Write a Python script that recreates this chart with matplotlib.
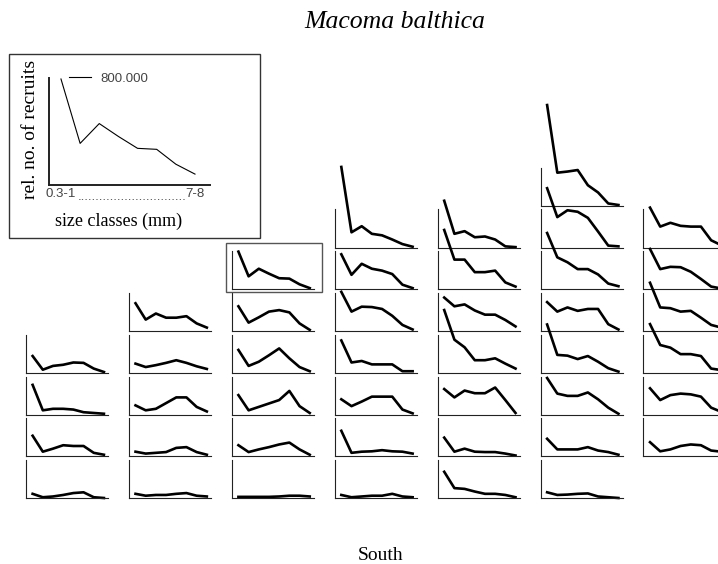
import numpy as np
import matplotlib.pyplot as plt
from matplotlib.patches import Rectangle

# size classes (mm) on the x axis of every small plot
size_classes = ['0.3-1', '1-2', '2-3', '3-4', '4-5', '5-6', '6-7', '7-8']
scale_label = '800.000'

# relative no. of recruits per station, each column listed from top to bottom
col0 = [
	[0.44, 0.08, 0.18, 0.21, 0.27, 0.26, 0.11, 0.02],
	[0.78, 0.11, 0.15, 0.15, 0.13, 0.06, 0.04, 0.02],
	[0.54, 0.12, 0.20, 0.29, 0.27, 0.27, 0.09, 0.04],
	[0.11, 0.02, 0.04, 0.08, 0.13, 0.15, 0.02, 0.00],
]
col1 = [
	[0.73, 0.30, 0.46, 0.35, 0.35, 0.39, 0.20, 0.09],
	[0.24, 0.15, 0.20, 0.26, 0.33, 0.26, 0.17, 0.10],
	[0.24, 0.11, 0.15, 0.30, 0.45, 0.45, 0.20, 0.08],
	[0.12, 0.07, 0.09, 0.11, 0.22, 0.24, 0.11, 0.04],
	[0.11, 0.06, 0.08, 0.08, 0.11, 0.13, 0.06, 0.04],
]
col2 = [
	[0.99, 0.34, 0.54, 0.41, 0.29, 0.28, 0.13, 0.03],
	[0.65, 0.22, 0.36, 0.51, 0.55, 0.49, 0.20, 0.03],
	[0.60, 0.18, 0.29, 0.46, 0.64, 0.38, 0.15, 0.04],
	[0.51, 0.11, 0.20, 0.29, 0.38, 0.62, 0.22, 0.04],
	[0.29, 0.11, 0.18, 0.24, 0.31, 0.36, 0.18, 0.04],
	[0.03, 0.03, 0.03, 0.03, 0.04, 0.06, 0.06, 0.04],
]
col3 = [
	[2.12, 0.40, 0.56, 0.36, 0.32, 0.21, 0.09, 0.02],
	[0.92, 0.38, 0.67, 0.54, 0.49, 0.40, 0.12, 0.03],
	[1.03, 0.51, 0.64, 0.63, 0.58, 0.40, 0.16, 0.04],
	[0.85, 0.27, 0.31, 0.22, 0.22, 0.22, 0.04, 0.04],
	[0.40, 0.22, 0.34, 0.47, 0.47, 0.47, 0.13, 0.03],
	[0.67, 0.09, 0.12, 0.13, 0.16, 0.13, 0.12, 0.07],
	[0.08, 0.02, 0.04, 0.06, 0.06, 0.11, 0.04, 0.02],
]
col4 = [
	[1.23, 0.36, 0.43, 0.27, 0.29, 0.21, 0.03, 0.01],
	[1.56, 0.78, 0.78, 0.45, 0.45, 0.49, 0.18, 0.07],
	[0.88, 0.65, 0.70, 0.54, 0.43, 0.43, 0.29, 0.12],
	[1.65, 0.87, 0.67, 0.33, 0.33, 0.38, 0.24, 0.11],
	[0.67, 0.45, 0.63, 0.56, 0.56, 0.71, 0.38, 0.04],
	[0.49, 0.12, 0.20, 0.12, 0.11, 0.11, 0.07, 0.02],
	[0.69, 0.26, 0.24, 0.17, 0.11, 0.11, 0.08, 0.02],
]
col5 = [
	[2.65, 0.87, 0.90, 0.94, 0.54, 0.35, 0.06, 0.02],
	[1.56, 0.80, 0.98, 0.94, 0.78, 0.42, 0.05, 0.03],
	[1.48, 0.84, 0.71, 0.53, 0.53, 0.39, 0.15, 0.08],
	[0.76, 0.51, 0.62, 0.53, 0.58, 0.58, 0.18, 0.04],
	[1.27, 0.47, 0.45, 0.36, 0.44, 0.29, 0.12, 0.03],
	[0.96, 0.55, 0.49, 0.49, 0.58, 0.40, 0.18, 0.02],
	[0.46, 0.18, 0.18, 0.18, 0.24, 0.15, 0.11, 0.04],
	[0.15, 0.08, 0.09, 0.11, 0.12, 0.04, 0.02, 0.00],
]
col6 = [
	[1.05, 0.55, 0.65, 0.57, 0.55, 0.55, 0.19, 0.06],
	[1.06, 0.53, 0.59, 0.58, 0.46, 0.27, 0.07, 0.02],
	[1.27, 0.62, 0.60, 0.51, 0.53, 0.35, 0.16, 0.09],
	[1.28, 0.73, 0.66, 0.49, 0.49, 0.44, 0.11, 0.07],
	[0.69, 0.38, 0.51, 0.55, 0.53, 0.47, 0.18, 0.07],
	[0.37, 0.13, 0.18, 0.27, 0.31, 0.29, 0.15, 0.12],
]
columns = [col0, col1, col2, col3, col4, col5, col6]

# layout (grid row of the top plot in each column, rows counted from bottom)
topRow = [3, 4, 5, 6, 6, 7, 6]
W, H = 718, 564

def rect(left, top, width, height):
	return [left / W, 1 - (top + height) / H, width / W, height / H]

def style(ax, lw = 0.8):
	for s in ('top', 'right'):
		ax.spines[s].set_visible(False)
	for s in ('left', 'bottom'):
		ax.spines[s].set_linewidth(lw)
		ax.spines[s].set_color('#222222')
	ax.set_xticks([])
	ax.set_yticks([])
	ax.patch.set_alpha(0)

fig = plt.figure(figsize = (W / 100, H / 100), dpi = 100)
x = np.arange(len(size_classes))

for (c, col) in enumerate(columns):
	for (k, values) in enumerate(col):
		r = topRow[c] - k
		baseline = 498 - 41.75 * r
		ax = fig.add_axes(rect(26 + 102.9 * c, baseline - 38, 82, 38))
		style(ax)
		ax.plot(x, values, color = 'black', lw = 1.9, clip_on = False)
		ax.set_xlim(-0.65, 7.4)
		ax.set_ylim(0, 1)

# box round the station that is shown enlarged
fig.patches.append(Rectangle((226 / W, 1 - 291.7 / H), 95.7 / W, 48.4 / H,
	transform = fig.transFigure, fill = False, edgecolor = '#555555', lw = 1.0))

# enlarged example with legend
fig.patches.append(Rectangle((9.3 / W, 1 - 238 / H), 250.7 / W, 184 / H,
	transform = fig.transFigure, fill = False, edgecolor = '#333333', lw = 1.0))
axi = fig.add_axes(rect(49.3, 78, 161, 107))
style(axi, 1.4)
axi.plot(x, col2[0], color = 'black', lw = 0.8, label = scale_label)
axi.set_xlim(-0.61, 7.8)
axi.set_ylim(-0.08, 1.0)
small = {'family': 'Liberation Sans', 'size': 9.5}
axi.set_xticks([0, 7], [size_classes[0], size_classes[-1]], color = '#444444', **{'fontfamily': small['family'], 'fontsize': small['size']})
axi.tick_params(axis = 'x', length = 0, pad = 2)
axi.text(0.517, -0.14, '.' * 30, transform = axi.transAxes, ha = 'center', va = 'baseline',
	color = '#444444', fontfamily = small['family'], fontsize = small['size'])
axi.legend(loc = 'upper left', bbox_to_anchor = (0.122, 1.05), frameon = False, borderpad = 0,
	borderaxespad = 0, handlelength = 1.7, handletextpad = 0.65, prop = small, labelcolor = '#444444')
fig.text(30.7 / W, 1 - 129.7 / H, 'rel. no. of recruits', rotation = 90, ha = 'center', va = 'center',
	fontsize = 14, family = 'Liberation Serif')
fig.text(119 / W, 1 - 221.7 / H, 'size classes (mm)', ha = 'center', va = 'center',
	fontsize = 13, family = 'Liberation Serif')

fig.text(395 / W, 1 - 22 / H, 'Macoma balthica', ha = 'center', va = 'center',
	fontsize = 18.5, style = 'italic', family = 'Liberation Serif')
fig.text(380.5 / W, 1 - 555 / H, 'South', ha = 'center', va = 'center',
	fontsize = 14, family = 'Liberation Serif')

fig.savefig('out.png', dpi = 100)
